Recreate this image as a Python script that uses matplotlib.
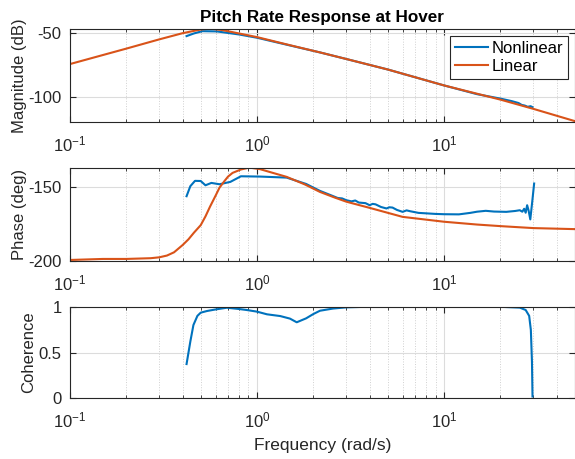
import matplotlib.pyplot as plt
from matplotlib.ticker import LogLocator, NullFormatter

plt.rcParams['font.family'] = ['Liberation Sans', 'DejaVu Sans']
plt.rcParams['mathtext.fontset'] = 'custom'
plt.rcParams['mathtext.rm'] = 'Liberation Sans'
plt.rcParams['axes.unicode_minus'] = False

blue = "#0072BD"
orange = "#D95319"

# linear model
lin_f = [0.1, 0.2, 0.3, 0.4, 0.5, 0.56, 0.65, 0.8, 1.0, 1.5, 2.17, 3.0, 5.0, 10, 20, 30, 50]
lin_mag = [-74.2, -62.0, -54.7, -49.8, -46.9, -46.2, -47.3, -50.0, -52.9, -59.3, -65.0, -70.2, -78.5, -91.1, -102.3, -109.6, -119.3]
lin_pf = [0.1, 0.15, 0.2, 0.27, 0.3, 0.33, 0.36, 0.4, 0.43, 0.46, 0.5, 0.53, 0.56, 0.6, 0.63, 0.67, 0.7, 0.74, 0.82, 0.91, 1.04, 1.2, 1.44, 1.8, 2.17, 2.6, 3.0, 4.0, 6.0, 10, 15, 20.2, 30, 50]
lin_phase = [-199.5, -198.8, -198.8, -198.3, -197.7, -196.5, -194.3, -189.4, -185.5, -181.0, -175.9, -170.0, -163.5, -156.0, -150.5, -146.0, -143.0, -140.5, -138.2, -136.9, -138.0, -140.3, -143.2, -148.3, -153.4, -157.2, -160.0, -164.2, -170.3, -173.6, -175.5, -176.6, -177.9, -178.6]

# nonlinear (identified) response
nl_f = [0.42, 0.46, 0.51, 0.61, 0.8, 1.0, 1.5, 2.17, 3.0, 5.0, 10, 15, 20, 23, 25, 26, 27, 28, 29, 29.7]
nl_mag = [-52.1, -50.0, -48.2, -48.4, -50.8, -53.4, -59.5, -65.0, -70.2, -78.5, -91.1, -98.0, -101.5, -103.5, -105.0, -106.5, -107.0, -108.0, -107.5, -108.3]
nl_pf = [0.42, 0.44, 0.466, 0.5, 0.53, 0.57, 0.63, 0.72, 0.82, 1.04, 1.44, 1.83, 2.17, 2.5, 2.7, 2.85, 3.0, 3.2, 3.35, 3.5, 3.8, 4.0, 4.15, 4.3, 4.6, 4.92, 5.1, 5.3, 5.6, 6.0, 6.3, 6.6, 7.3, 8.0, 9.0, 10, 12, 13.8, 15, 16.7, 18.5, 21.5, 24, 25.4, 26.2, 26.8, 27.3, 27.8, 28.3, 28.9, 29.6, 30.3]
nl_phase = [-156.3, -149.5, -145.9, -146.0, -148.9, -147.3, -148.2, -146.6, -142.8, -143.0, -143.7, -148.0, -152.7, -155.8, -157.5, -157.8, -159.0, -159.8, -159.2, -160.6, -161.0, -162.4, -161.5, -161.8, -163.6, -164.6, -163.8, -164.0, -165.6, -166.9, -165.9, -166.5, -167.6, -167.9, -168.3, -168.5, -168.6, -167.6, -166.8, -166.2, -166.7, -166.9, -166.3, -165.8, -166.8, -164.8, -167.5, -162.4, -166.0, -172.0, -160.0, -147.7]
coh_f = [0.42, 0.44, 0.457, 0.48, 0.5, 0.54, 0.6, 0.69, 0.8, 0.88, 1.0, 1.13, 1.33, 1.5, 1.63, 1.83, 2.0, 2.17, 2.55, 3.0, 4.0, 6.0, 10, 15, 20, 25.4, 27.3, 28.5, 29.1, 29.5, 29.7]
coh = [0.374, 0.62, 0.80, 0.90, 0.935, 0.953, 0.97, 0.989, 0.975, 0.964, 0.946, 0.917, 0.898, 0.87, 0.83, 0.873, 0.92, 0.956, 0.98, 0.993, 1.0, 0.998, 1.0, 0.998, 0.999, 0.99, 0.964, 0.90, 0.746, 0.4, 0.02]

fig = plt.figure(figsize=(5.75, 4.59), dpi=100)
ax1 = fig.add_axes([0.1217, 0.7342, 0.878, 0.2026])
ax2 = fig.add_axes([0.1217, 0.432, 0.878, 0.2026])
ax3 = fig.add_axes([0.1217, 0.1322, 0.878, 0.1996])

ax1.plot(nl_f, nl_mag, color=blue, lw=1.5, label="Nonlinear")
ax1.plot(lin_f, lin_mag, color=orange, lw=1.5, label="Linear")
ax2.plot(nl_pf, nl_phase, color=blue, lw=1.5)
ax2.plot(lin_pf, lin_phase, color=orange, lw=1.5)
ax3.plot(coh_f, coh, color=blue, lw=1.5)

ax1.set_ylim(-120, -46.5)
ax1.set_yticks([-100, -50])
ax2.set_ylim(-200, -137)
ax2.set_yticks([-200, -150])
ax3.set_ylim(0, 1)
ax3.set_yticks([0, 0.5, 1])
ax3.set_yticklabels(["0", "0.5", "1"])

for ax in (ax1, ax2, ax3):
    ax.set_xscale("log")
    ax.set_xlim(0.1, 50)
    ax.xaxis.set_major_locator(LogLocator(base=10, numticks=10))
    ax.xaxis.set_minor_locator(LogLocator(base=10, subs=range(2, 10), numticks=20))
    ax.xaxis.set_minor_formatter(NullFormatter())
    ax.grid(True, which="major", color="#dcdcdc", lw=0.8)
    ax.grid(True, which="minor", axis="x", color="#d0d0d0", lw=0.7, ls=":")
    ax.set_axisbelow(True)
    ax.tick_params(which="both", direction="in", top=True, right=True, colors="#262626", labelsize=12)
    ax.tick_params(axis="x", pad=9)
    ax.tick_params(axis="y", pad=6)
    ax.tick_params(which="major", length=4)
    ax.tick_params(which="minor", length=2)
    for s in ax.spines.values():
        s.set_color("#262626")
        s.set_linewidth(0.8)

ax1.set_title("Pitch Rate Response at Hover", fontsize=12.3, fontweight="bold", color="black", pad=5)
ax1.set_ylabel("Magnitude (dB)", fontsize=12, color="#262626", labelpad=1)
ax2.set_ylabel("Phase (deg)", fontsize=12, color="#262626", labelpad=1)
ax3.set_ylabel("Coherence", fontsize=12, color="#262626", labelpad=2)
ax3.set_xlabel("Frequency (rad/s)", fontsize=12.5, color="#262626", labelpad=5)

leg = ax1.legend(loc="upper right", fontsize=12, fancybox=False, edgecolor="#262626",
                 framealpha=1, borderpad=0.3, handlelength=2.0, handletextpad=0.2,
                 labelspacing=0.2, borderaxespad=0.4)
leg.get_frame().set_linewidth(0.8)

fig.savefig("out.png", dpi=100)
